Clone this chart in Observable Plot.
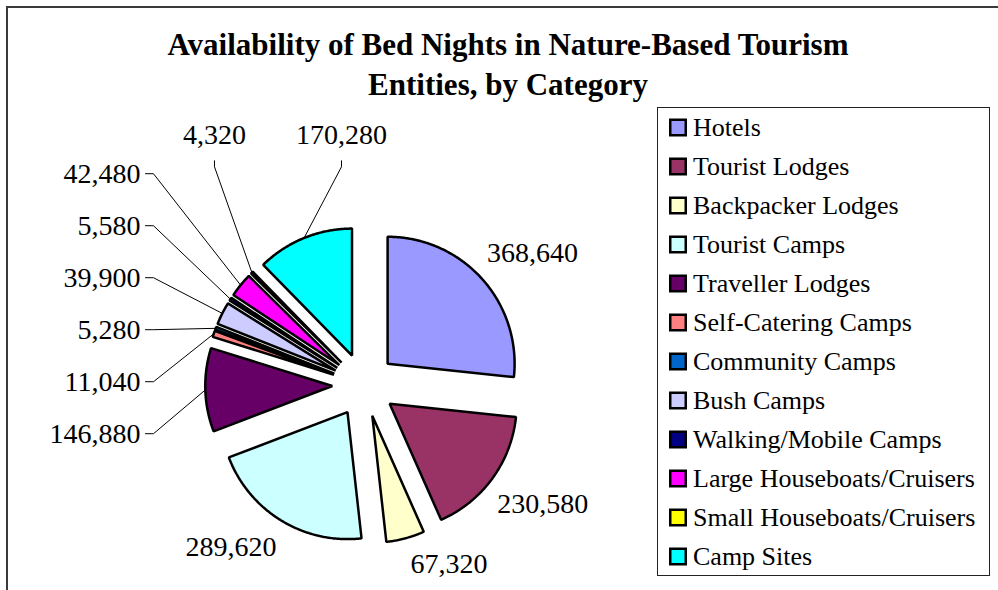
<!DOCTYPE html>
<html>
<head>
<meta charset="utf-8">
<script src="https://cdn.jsdelivr.net/npm/d3@7"></script>
<script src="https://cdn.jsdelivr.net/npm/@observablehq/plot@0.6"></script>
<style>
html, body { margin: 0; padding: 0; background: #fff; }
#wrap { position: relative; width: 998px; height: 590px; overflow: hidden; font-family: "Liberation Serif", "Times New Roman", serif; }
#chart { position: absolute; left: 0; top: 0; }
#title { position: absolute; left: 8px; width: 1000px; top: 24.5px; text-align: center; font-weight: bold; font-size: 31px; line-height: 40px; color: #000; }
#legend { position: absolute; left: 657px; top: 107px; width: 333px; height: 469px; box-sizing: border-box; border: 1.5px solid #222; }
#legend svg { position: absolute; left: 0; top: 0; }
#border { position: absolute; left: 6px; top: 6px; width: 1100px; height: 700px; border: 2px solid #3a3a3a; pointer-events: none; }
</style>
</head>
<body>
<div id="wrap">
  <div id="chart"></div>
  <div id="title"></div>
  <div id="legend"></div>
  <div id="border"></div>
</div>
<script>
// ---------- data ----------
const categories = [
  "Hotels", "Tourist Lodges", "Backpacker Lodges", "Tourist Camps", "Traveller Lodges",
  "Self-Catering Camps", "Community Camps", "Bush Camps", "Walking/Mobile Camps",
  "Large Houseboats/Cruisers", "Small Houseboats/Cruisers", "Camp Sites"
];
const bedNights = [368640, 230580, 67320, 289620, 146880, 11040, 5280, 39900, 5580, 42480, 4320, 170280];
const titleLines = ["Availability of Bed Nights in Nature-Based Tourism", "Entities, by Category"];

// ---------- style ----------
const palette = ["#9999FF", "#993366", "#FFFFCC", "#CCFFFF", "#660066", "#FF8080",
                 "#0066CC", "#CCCCFF", "#000080", "#FF00FF", "#FFFF00", "#00FFFF"];
const FONT = "'Liberation Serif', 'Times New Roman', serif";

// ---------- layout ----------
const W = 998, H = 590;
const CX = 363.5, CY = 384.5, RPX = 127;   // pie centre & radius in px
const EXPLODE = 0.25;                       // fraction of radius
const LABEL_FS = 28;
const px = v => v / RPX;                    // px -> radius units

const rows = categories.map((c, i) => ({category: c, value: bedNights[i]}));
const arcs = d3.pie().sort(null).value(d => d.value)(rows);
const fmt = d3.format(",");

const ctx = document.createElement("canvas").getContext("2d");
ctx.font = `${LABEL_FS}px ${FONT}`;

// slice polygons
const slicePts = [];
arcs.forEach(a => {
  const m = (a.startAngle + a.endAngle) / 2;
  const ox = EXPLODE * Math.sin(m), oy = -EXPLODE * Math.cos(m);
  const c = a.data.category;
  slicePts.push({category: c, x: ox, y: oy});
  const n = Math.max(2, Math.ceil((a.endAngle - a.startAngle) / (Math.PI / 360)));
  for (let k = 0; k <= n; k++) {
    const t = a.startAngle + (a.endAngle - a.startAngle) * k / n;
    slicePts.push({category: c, x: ox + Math.sin(t), y: oy - Math.cos(t)});
  }
});

// labels
const labels = arcs.map(a => {
  const m = (a.startAngle + a.endAngle) / 2;
  const ux = Math.sin(m), uy = -Math.cos(m);
  const text = fmt(a.data.value);
  const halfW = px(ctx.measureText(text).width / 2);
  return {category: a.data.category, text, m, deg: m * 180 / Math.PI, ux, uy, halfW,
          ex: (1 + EXPLODE) * ux, ey: (1 + EXPLODE) * uy};
});
const halfH = px(14);
const plain = labels.filter(l => l.deg < 250);
const column = labels.filter(l => l.deg >= 250 && l.deg < 312);
const toprow = labels.filter(l => l.deg >= 312);

// outside-end: the label box's nearest corner sits just beyond the slice edge
plain.forEach(l => {
  l.x = l.ex + Math.sign(l.ux) * (px(5) + l.halfW);
  l.y = l.ey + Math.sign(l.uy) * (px(12) + halfH);
});

// left column: stacked vertically around mean of ideal positions
{
  column.forEach(l => l.iy = px(215) * l.uy);
  column.sort((a, b) => a.iy - b.iy);
  const mean = d3.mean(column, l => l.iy), step = px(52), n = column.length;
  const rightEnd = -1.76;
  column.forEach((l, k) => {
    l.y = mean + (k - (n - 1) / 2) * step;
    l.x = rightEnd - l.halfW;
    l.leader = [[rightEnd + px(5), l.y], [rightEnd + px(13), l.y], [l.ex, l.ey]];
  });
}
// top row: spread horizontally around mean of slice edges
{
  toprow.sort((a, b) => a.ex - b.ex);
  const gap = px(50);
  let pos = 0; const xs = [];
  toprow.forEach((l, k) => { if (k) pos += toprow[k - 1].halfW + l.halfW + gap; xs.push(pos); });
  const shift = d3.mean(toprow, l => l.ex) - d3.mean(xs);
  toprow.forEach((l, k) => {
    l.x = xs[k] + shift;
    l.y = -1.97;
    l.leader = [[l.x, l.y + px(26)], [l.x, l.y + px(32)], [l.ex, l.ey]];
  });
}
const leaderPts = labels.filter(l => l.leader).flatMap(l => l.leader.map(([x, y]) => ({id: l.category, x, y})));

// ---------- main chart ----------
const chart = Plot.plot({
  width: W, height: H, margin: 0,
  style: {background: "transparent", overflow: "visible"},
  x: {domain: [-CX / RPX, (W - CX) / RPX], range: [0, W], axis: null},
  y: {domain: [-CY / RPX, (H - CY) / RPX], range: [0, H], axis: null},
  color: {domain: categories, range: palette},
  marks: [
    Plot.line(leaderPts, {x: "x", y: "y", z: "id", stroke: "#000", strokeWidth: 1, curve: "linear"}),
    Plot.line(slicePts, {x: "x", y: "y", z: "category", fill: "category", stroke: "#000",
      strokeWidth: 2.5, strokeLinejoin: "miter", curve: "linear-closed"}),
    Plot.text(labels, {x: "x", y: "y", text: "text", fontSize: LABEL_FS, fontFamily: FONT,
      fill: "#000", textAnchor: "middle", lineAnchor: "middle"})
  ]
});
document.getElementById("chart").appendChild(chart);

// ---------- title ----------
document.getElementById("title").innerHTML = titleLines.join("<br>");

// ---------- legend ----------
const legend = Plot.plot({
  width: 330, height: 466, margin: 0,
  style: {background: "transparent"},
  x: {domain: [0, 1], axis: null},
  y: {type: "point", domain: categories, range: [18.8, 448.8], padding: 0, axis: null},
  color: {domain: categories, range: palette},
  marks: [
    Plot.dot(categories, {y: d => d, frameAnchor: "left", dx: 19.5, symbol: "square", r: 8.75,
      fill: d => d, stroke: "#000", strokeWidth: 2.5}),
    Plot.text(categories, {y: d => d, text: d => d, frameAnchor: "left", dx: 34.5, textAnchor: "start",
      lineAnchor: "middle", fontSize: 26, fontFamily: FONT, fill: "#000"})
  ]
});
document.getElementById("legend").appendChild(legend);
</script>
</body>
</html>
